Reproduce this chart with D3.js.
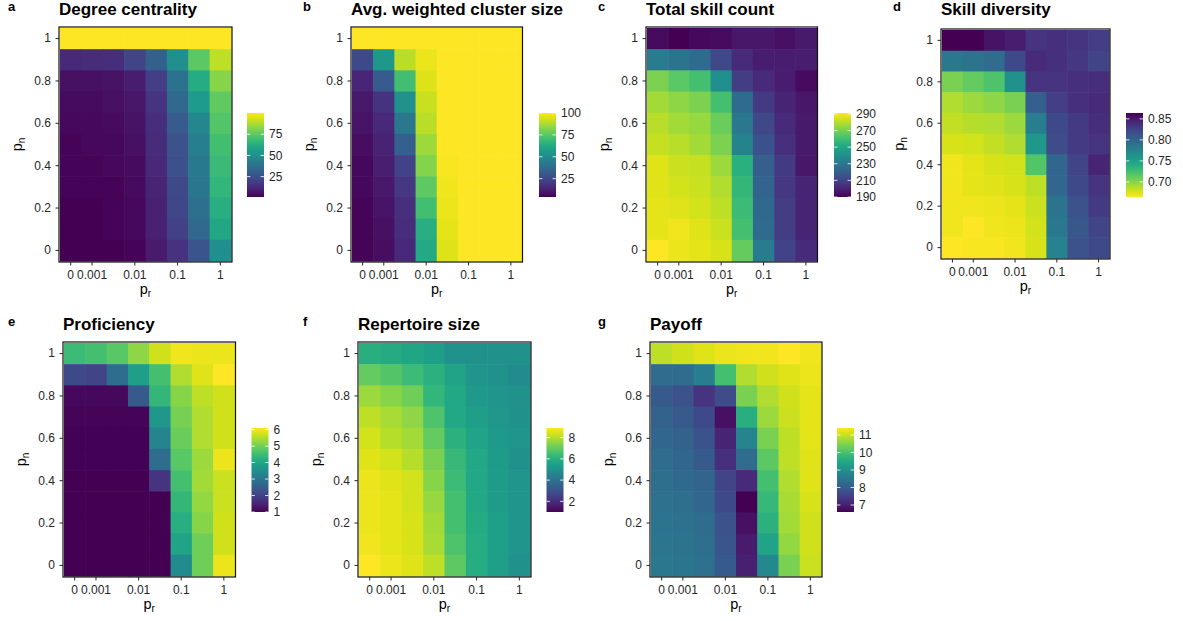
<!DOCTYPE html>
<html>
<head>
<meta charset="utf-8">
<script src="https://cdn.jsdelivr.net/npm/d3@7"></script>
<style>
  body { margin: 0; background: #fff; }
  text { font-family: "Liberation Sans", Arial, Helvetica, sans-serif; }
</style>
</head>
<body>
<script>
// p_r levels (columns) and p_n levels (rows, listed top to bottom)
const prLevels = [0, 0.001, 0.003, 0.01, 0.03, 0.1, 0.3, 1];
const prTicks = [0, 0.001, 0.01, 0.1, 1];
const pnLevels = [1, 0.9, 0.8, 0.7, 0.6, 0.5, 0.4, 0.3, 0.2, 0.1, 0];
const pnTicks = [1, 0.8, 0.6, 0.4, 0.2, 0];

// each matrix: rows p_n = 1 ... 0, columns follow prLevels
const degreeCentrality = [
  [100, 100, 100, 100, 100, 100, 100, 100],
  [12, 13, 14, 21, 31, 50, 75, 90],
  [5, 5, 6, 9, 19, 38, 62, 82],
  [4, 4, 5, 7, 16, 34, 55, 76],
  [3, 3, 4, 6, 14, 29, 47, 73],
  [2, 3, 3, 5, 13, 26, 43, 70],
  [2, 2, 3, 4, 12, 25, 41, 68],
  [2, 2, 2, 4, 11, 23, 40, 66],
  [1, 1, 2, 3, 10, 22, 37, 63],
  [1, 1, 2, 3, 10, 20, 34, 60],
  [1, 1, 1, 2, 8, 15, 27, 50]
];
const clusterSize = [
  [100, 100, 100, 100, 100, 100, 100, 100],
  [25, 55, 90, 97, 100, 100, 100, 100],
  [14, 31, 71, 95, 100, 100, 100, 100],
  [10, 18, 52, 92, 100, 100, 100, 100],
  [9, 15, 42, 90, 100, 100, 100, 100],
  [7, 13, 33, 86, 100, 100, 100, 100],
  [6, 12, 23, 82, 99, 100, 100, 100],
  [6, 10, 19, 76, 98, 100, 100, 100],
  [5, 9, 17, 71, 97, 100, 100, 100],
  [5, 8, 16, 64, 96, 100, 100, 100],
  [5, 7, 15, 62, 95, 100, 100, 100]
];
const skillCount = [
  [193, 190, 192, 193, 196, 196, 194, 197],
  [232, 229, 225, 212, 202, 198, 198, 198],
  [271, 265, 261, 240, 208, 202, 198, 193],
  [277, 274, 271, 261, 225, 207, 200, 196],
  [280, 277, 275, 268, 230, 212, 202, 197],
  [282, 280, 277, 271, 235, 215, 204, 197],
  [286, 283, 282, 276, 254, 220, 207, 196],
  [286, 284, 283, 279, 257, 222, 206, 200],
  [287, 286, 284, 281, 259, 224, 208, 200],
  [287, 289, 286, 283, 261, 225, 208, 200],
  [291, 288, 287, 285, 267, 232, 210, 202]
];
const skillDiversity = [
  [0.864, 0.864, 0.854, 0.848, 0.834, 0.836, 0.834, 0.828],
  [0.784, 0.788, 0.794, 0.820, 0.840, 0.836, 0.832, 0.824],
  [0.704, 0.712, 0.720, 0.764, 0.834, 0.834, 0.836, 0.838],
  [0.688, 0.694, 0.698, 0.704, 0.804, 0.828, 0.836, 0.840],
  [0.682, 0.686, 0.688, 0.694, 0.780, 0.820, 0.830, 0.838],
  [0.676, 0.678, 0.682, 0.688, 0.758, 0.818, 0.830, 0.834],
  [0.668, 0.672, 0.676, 0.678, 0.718, 0.798, 0.824, 0.844],
  [0.668, 0.672, 0.674, 0.676, 0.684, 0.798, 0.820, 0.834],
  [0.668, 0.668, 0.670, 0.672, 0.680, 0.788, 0.814, 0.830],
  [0.668, 0.664, 0.668, 0.670, 0.678, 0.784, 0.810, 0.824],
  [0.664, 0.666, 0.666, 0.668, 0.676, 0.776, 0.814, 0.820]
];
const proficiency = [
  [4.47, 4.57, 4.77, 5.23, 5.74, 6.0, 5.95, 5.95],
  [2.12, 2.02, 2.8, 3.86, 4.57, 5.49, 5.85, 6.1],
  [1.1, 1.1, 1.1, 2.43, 4.37, 5.18, 5.59, 5.74],
  [1.05, 1.05, 1.05, 1.05, 3.7, 5.03, 5.49, 5.74],
  [1.03, 1.03, 1.03, 1.03, 3.3, 4.93, 5.49, 5.74],
  [1.02, 1.02, 1.02, 1.02, 2.8, 4.77, 5.34, 5.95],
  [1, 1, 1, 1, 1.77, 4.57, 5.39, 5.69],
  [1, 1, 1, 1, 1, 4.37, 5.28, 5.69],
  [1, 1, 1, 1, 1, 4.2, 5.18, 5.74],
  [1, 1, 1, 1, 1, 3.96, 4.98, 5.74],
  [1, 1, 1, 1, 1, 3.45, 4.98, 5.95]
];
const repertoireSize = [
  [5.98, 5.82, 5.66, 5.42, 4.95, 4.95, 4.95, 4.95],
  [7.0, 6.77, 6.37, 6.06, 5.58, 5.11, 4.95, 4.79],
  [7.72, 7.48, 7.16, 6.21, 5.74, 5.27, 5.11, 4.95],
  [8.11, 7.87, 7.56, 6.69, 5.74, 5.42, 5.19, 5.03],
  [8.35, 8.03, 7.79, 7.0, 6.06, 5.58, 5.27, 5.11],
  [8.51, 8.35, 8.03, 7.32, 6.29, 5.74, 5.35, 4.95],
  [8.66, 8.51, 8.35, 7.48, 6.37, 5.74, 5.35, 5.11],
  [8.66, 8.58, 8.35, 7.64, 6.53, 5.74, 5.35, 5.11],
  [8.66, 8.58, 8.43, 7.79, 6.53, 5.82, 5.42, 5.11],
  [8.74, 8.58, 8.43, 7.87, 6.69, 5.9, 5.42, 5.11],
  [8.9, 8.66, 8.51, 8.11, 6.93, 5.9, 5.42, 4.95]
];
const payoff = [
  [10.92, 11.06, 11.16, 11.26, 11.3, 11.3, 11.4, 11.3],
  [8.28, 8.28, 8.62, 9.96, 10.82, 11.06, 11.16, 11.26],
  [7.94, 7.8, 7.32, 7.7, 10.44, 10.82, 11.06, 11.21],
  [8.09, 7.94, 7.66, 6.79, 9.62, 10.68, 11.02, 11.21],
  [8.18, 8.09, 7.8, 7.08, 8.76, 10.44, 10.92, 11.21],
  [8.28, 8.18, 7.94, 7.27, 8.28, 10.2, 10.92, 11.16],
  [8.33, 8.23, 8.14, 7.56, 7.18, 9.96, 10.82, 11.16],
  [8.38, 8.33, 8.18, 7.66, 6.6, 9.82, 10.78, 11.11],
  [8.42, 8.38, 8.28, 7.8, 6.79, 9.67, 10.73, 11.06],
  [8.47, 8.42, 8.33, 7.85, 6.94, 9.38, 10.63, 11.06],
  [8.52, 8.47, 8.38, 7.94, 7.03, 8.86, 10.44, 11.02]
];

const panelLetters = ["a", "b", "c", "d", "e", "f", "g"];
const panelTitles = ["Degree centrality", "Avg. weighted cluster size", "Total skill count",
  "Skill diversity", "Proficiency", "Repertoire size", "Payoff"];
const panelLimits = [[1, 100], [4, 100], [190, 291], [0.664, 0.864], [1, 6.1], [1, 8.9], [6.6, 11.4]];
const panelBreaks = [[25, 50, 75], [25, 50, 75, 100], [190, 210, 230, 250, 270, 290],
  [0.70, 0.75, 0.80, 0.85], [1, 2, 3, 4, 5, 6], [2, 4, 6, 8], [7, 8, 9, 10, 11]];
const panelData = [degreeCentrality, clusterSize, skillCount, skillDiversity, proficiency, repertoireSize, payoff];

// page layout (tile area + colour bar position)
const layout = [
  {col: 0,   x0: 60,  x1: 231,   y0: 28,  y1: 261, titleY: 14.5,  lx: 247,   ly: 113},
  {col: 295, x0: 352, x1: 521.5, y0: 28,  y1: 261, titleY: 14.5,  lx: 539,   ly: 113},
  {col: 590, x0: 647, x1: 816.5, y0: 28,  y1: 261, titleY: 14.5,  lx: 834,   ly: 113},
  {col: 885, x0: 942, x1: 1109,  y0: 30,  y1: 258, titleY: 14.5,  lx: 1126,  ly: 113},
  {col: 0,   x0: 64,  x1: 234.5, y0: 343, y1: 576, titleY: 329.5, lx: 251.5, ly: 428},
  {col: 295, x0: 359, x1: 530,   y0: 343, y1: 576, titleY: 329.5, lx: 546.5, ly: 428},
  {col: 590, x0: 651, x1: 821,   y0: 343, y1: 576, titleY: 329.5, lx: 837,   ly: 428}
];

const width = 1183, height = 621;
const barW = 17, barH = 84;
const ink = "#262626";

const svg = d3.select("body").append("svg")
  .attr("width", width)
  .attr("height", height)
  .style("background", "#fff");
const defs = svg.append("defs");

panelData.forEach((values, i) => {
  const L = layout[i];
  const reverse = i === 3; // skill diversity uses reversed viridis
  const x = d3.scaleBand().domain(prLevels).range([L.x0, L.x1]);
  const y = d3.scaleBand().domain(pnLevels).range([L.y0, L.y1]);
  const norm = d3.scaleLinear().domain(panelLimits[i]).range(reverse ? [1, 0] : [0, 1]).clamp(true);
  const fill = v => d3.interpolateViridis(norm(v));

  const g = svg.append("g");

  const cells = values.flatMap((row, r) => row.map((v, c) => ({pr: prLevels[c], pn: pnLevels[r], v})));
  g.selectAll("rect.cell").data(cells).join("rect")
    .attr("class", "cell")
    .attr("x", d => x(d.pr))
    .attr("y", d => y(d.pn))
    .attr("width", x.bandwidth() + 0.6)
    .attr("height", y.bandwidth() + 0.6)
    .attr("fill", d => fill(d.v));

  g.append("rect")
    .attr("x", L.x0 - 1).attr("y", L.y0 - 1)
    .attr("width", L.x1 - L.x0 + 2).attr("height", L.y1 - L.y0 + 2)
    .attr("fill", "none").attr("stroke", "#111").attr("stroke-width", 1.2);

  // axes
  const xAxis = g.append("g")
    .attr("transform", "translate(0," + (L.y1 + 1) + ")")
    .call(d3.axisBottom(x).tickValues(prTicks).tickFormat(d => String(d)).tickSize(3.5).tickPadding(5));
  const yAxis = g.append("g")
    .attr("transform", "translate(" + (L.x0 - 1) + ",0)")
    .call(d3.axisLeft(y).tickValues(pnTicks).tickFormat(d => String(d)).tickSize(3.5).tickPadding(4.5));
  [xAxis, yAxis].forEach(ax => {
    ax.select(".domain").remove();
    ax.selectAll(".tick line").attr("stroke", ink);
    ax.selectAll(".tick text").attr("fill", ink).style("font-size", "12px").style("font-family", null);
  });

  // axis titles
  const xt = g.append("text")
    .attr("x", (L.x0 + L.x1) / 2).attr("y", L.y1 + 32.5)
    .attr("text-anchor", "middle").style("font-size", "14.5px").attr("fill", "#000")
    .text("p");
  xt.append("tspan").attr("dy", 3).style("font-size", "10px").text("r");

  const yt = g.append("text")
    .attr("transform", "translate(" + (L.x0 - 38) + "," + ((L.y0 + L.y1) / 2) + ") rotate(-90)")
    .attr("text-anchor", "middle").style("font-size", "14.5px").attr("fill", "#000")
    .text("p");
  yt.append("tspan").attr("dy", 3).style("font-size", "10px").text("n");

  // panel letter and title
  g.append("text")
    .attr("x", L.col + 8).attr("y", L.titleY - 3.5)
    .style("font-size", "13px").style("font-weight", "bold")
    .text(panelLetters[i]);
  g.append("text")
    .attr("x", L.x0 - 1).attr("y", L.titleY)
    .style("font-size", "17px").style("font-weight", "bold")
    .text(panelTitles[i]);

  // colour bar
  const gradId = "grad" + i;
  const grad = defs.append("linearGradient")
    .attr("id", gradId)
    .attr("x1", 0).attr("y1", 1).attr("x2", 0).attr("y2", 0);
  d3.range(0, 1.0001, 0.05).forEach(t => {
    grad.append("stop")
      .attr("offset", t)
      .attr("stop-color", d3.interpolateViridis(reverse ? 1 - t : t));
  });
  const ly = d3.scaleLinear().domain(panelLimits[i]).range([L.ly + barH, L.ly]);
  const leg = g.append("g");
  leg.append("rect")
    .attr("x", L.lx).attr("y", L.ly)
    .attr("width", barW).attr("height", barH)
    .attr("fill", "url(#" + gradId + ")");
  const fmt = reverse ? d3.format(".2f") : d3.format("d");
  const bt = leg.selectAll("g.brk").data(panelBreaks[i]).join("g").attr("class", "brk");
  bt.append("line")
    .attr("x1", L.lx).attr("x2", L.lx + barW / 5)
    .attr("y1", d => ly(d)).attr("y2", d => ly(d))
    .attr("stroke", "#fff").attr("stroke-opacity", 0.8);
  bt.append("line")
    .attr("x1", L.lx + barW - barW / 5).attr("x2", L.lx + barW)
    .attr("y1", d => ly(d)).attr("y2", d => ly(d))
    .attr("stroke", "#fff").attr("stroke-opacity", 0.8);
  bt.append("text")
    .attr("x", L.lx + barW + 5)
    .attr("y", d => ly(d))
    .attr("dy", "0.35em")
    .style("font-size", "12px")
    .attr("fill", ink)
    .text(d => fmt(d));
});
</script>
</body>
</html>
